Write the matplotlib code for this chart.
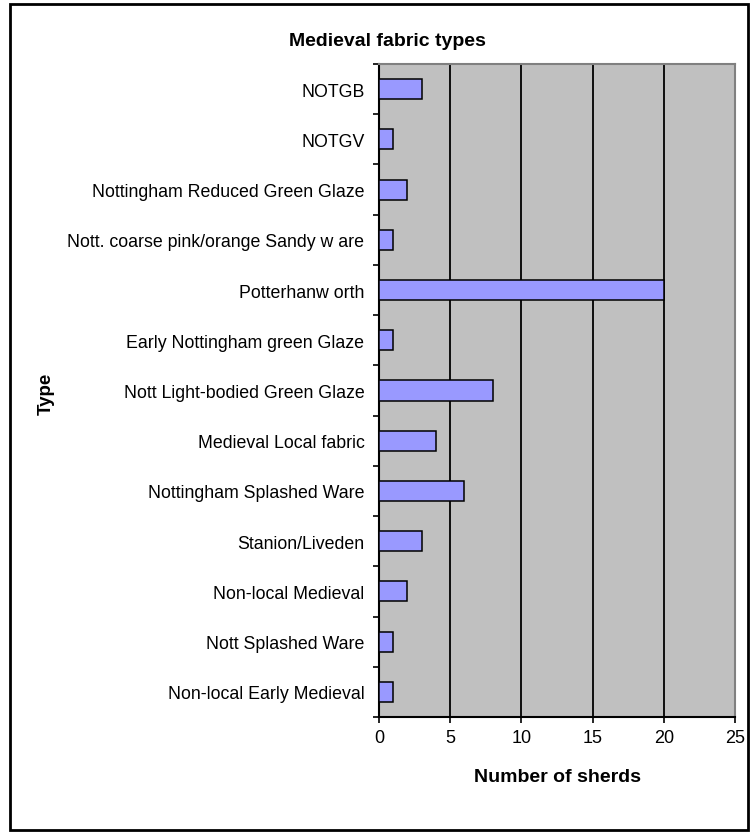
import matplotlib.pyplot as plt
from matplotlib.patches import Rectangle

# sherd counts per medieval fabric type (top to bottom as drawn)
fabric_types = [
    'NOTGB',
    'NOTGV',
    'Nottingham Reduced Green Glaze',
    'Nott. coarse pink/orange Sandy w are',
    'Potterhanw orth',
    'Early Nottingham green Glaze',
    'Nott Light-bodied Green Glaze',
    'Medieval Local fabric',
    'Nottingham Splashed Ware',
    'Stanion/Liveden',
    'Non-local Medieval',
    'Nott Splashed Ware',
    'Non-local Early Medieval',
]
sherds = [3, 1, 2, 1, 20, 1, 8, 4, 6, 3, 2, 1, 1]
x_ticks = [0, 5, 10, 15, 20, 25]

plt.rcParams['font.family'] = ['Liberation Sans', 'DejaVu Sans']

W, H = 755, 837
fig = plt.figure(figsize=(W / 100, H / 100), dpi=100)

# outer chart frame
fig.patches.append(Rectangle((10 / W, 1 - 831 / H), 738 / W, 826 / H,
                             transform=fig.transFigure, fill=False,
                             edgecolor='black', linewidth=2))

ax = fig.add_axes([379 / W, 1 - 718 / H, 356 / W, 653 / H])
ax.set_facecolor('#C0C0C0')

n = len(fabric_types)
pos = list(range(n))[::-1]
ax.barh(pos, sherds, height=0.4, color='#9999FF', edgecolor='black',
        linewidth=1.1, zorder=3)

ax.set_xlim(0, 25)
ax.set_ylim(-0.5, n - 0.5)
ax.set_xticks(x_ticks)
ax.set_xticklabels([str(t) for t in x_ticks], fontsize=13)
ax.set_yticks(pos)
ax.set_yticklabels(fabric_types, fontsize=12.8)
ax.tick_params(axis='y', length=0, pad=10.5)
ax.tick_params(axis='x', length=4, width=1.2, pad=5)
# category separators as minor ticks on the y axis
ax.set_yticks([p + 0.5 for p in range(-1, n)], minor=True)
ax.tick_params(axis='y', which='minor', length=4, width=1.2)

ax.grid(axis='x', color='black', linewidth=1.3, zorder=1)
ax.set_axisbelow(True)
for side in ['top', 'right']:
    ax.spines[side].set_color('#808080')
    ax.spines[side].set_linewidth(1.5)
for side in ['left', 'bottom']:
    ax.spines[side].set_color('black')
    ax.spines[side].set_linewidth(1.5)

fig.text(387 / W, 1 - 41 / H, 'Medieval fabric types', ha='center',
         va='center', fontsize=14, fontweight='bold')
fig.text(557 / W, 1 - 778 / H, 'Number of sherds', ha='center',
         va='center', fontsize=14, fontweight='bold')
fig.text(46 / W, 1 - 394 / H, 'Type', ha='center', va='center',
         rotation=90, fontsize=13.5, fontweight='bold')

fig.savefig('out.png', dpi=100)
